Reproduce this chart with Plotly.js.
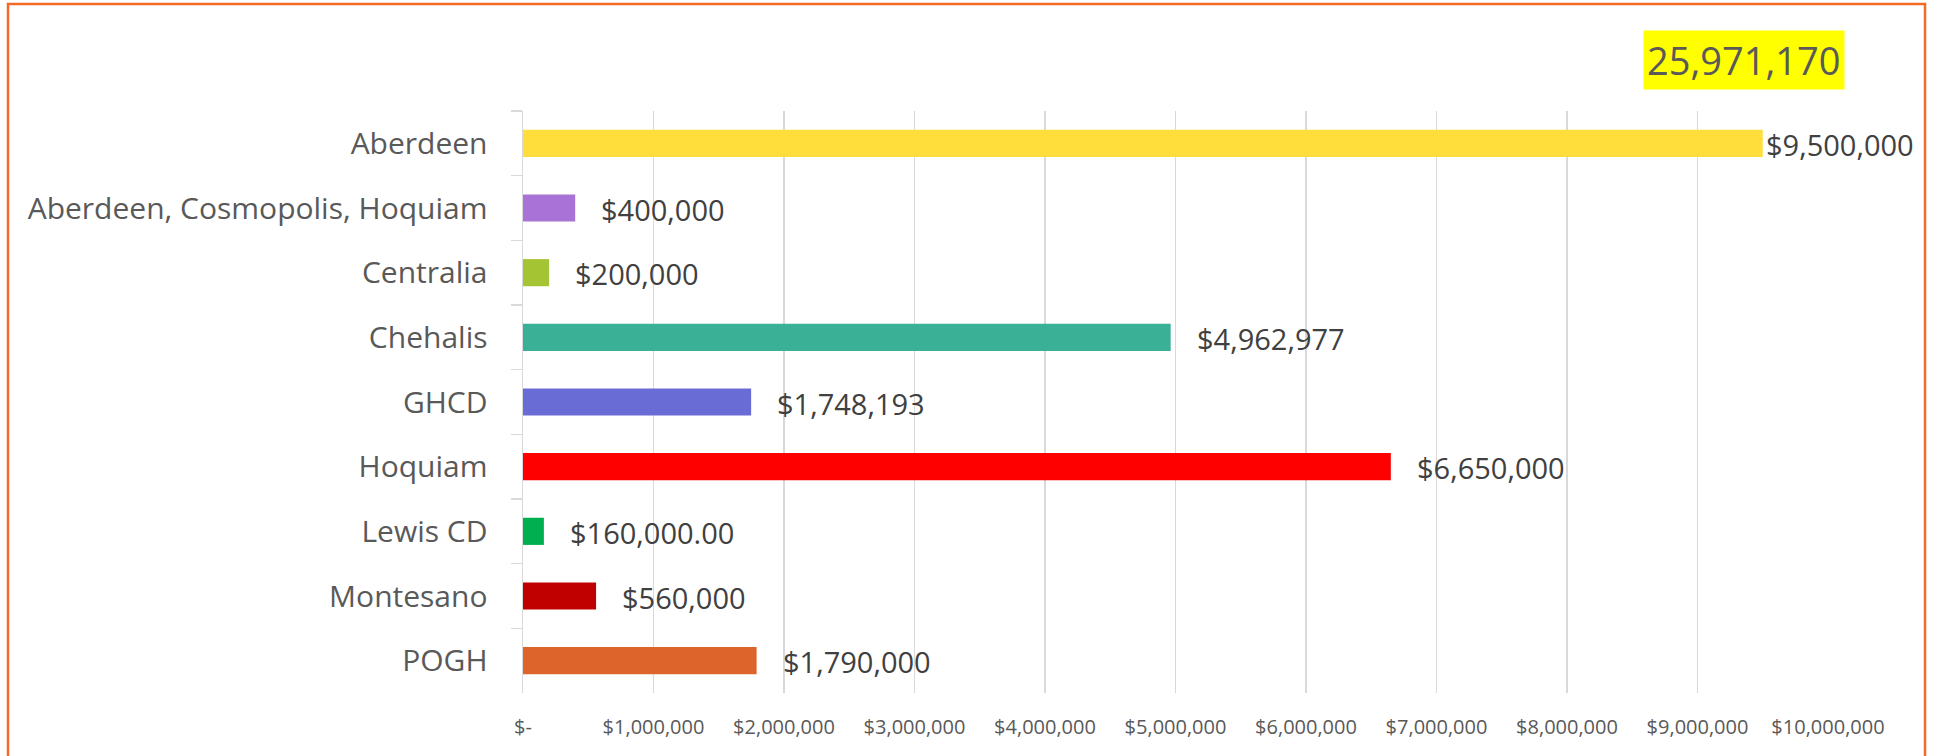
<!DOCTYPE html>
<html>
<head>
<meta charset="utf-8">
<script src="https://cdn.plot.ly/plotly-3.0.1.min.js"></script>
<style>
html,body{margin:0;padding:0;background:#fff;overflow:hidden;}
#chart{width:1939px;height:756px;}
</style>
</head>
<body>
<div id="chart"></div>
<script>
const categories = ["Aberdeen","Aberdeen, Cosmopolis, Hoquiam","Centralia","Chehalis","GHCD","Hoquiam","Lewis CD","Montesano","POGH"];
const values = [9500000,400000,200000,4962977,1748193,6650000,160000,560000,1790000];
const valueLabels = ["$9,500,000","$400,000","$200,000","$4,962,977","$1,748,193","$6,650,000","$160,000.00","$560,000","$1,790,000"];
const barColors = ["#FFDE3B","#A872D6","#A5C434","#3AB097","#6A6CD6","#FF0000","#00B050","#C00000","#DD642B"];
const tickValues = [0,1000000,2000000,3000000,4000000,5000000,6000000,7000000,8000000,9000000,10000000];
const tickLabels = ["$-","$1,000,000","$2,000,000","$3,000,000","$4,000,000","$5,000,000","$6,000,000","$7,000,000","$8,000,000","$9,000,000","$10,000,000"];

const total = values.reduce((a,b)=>a+b,0);
const totalText = total.toLocaleString('en-US');

const W = 1939, H = 756;
const M = {l:523, r:111, t:111, b:63};
const pw = W - M.l - M.r, ph = H - M.t - M.b;
const px = x => (x - M.l)/pw;
const py = y => (H - M.b - y)/ph;

const font = "'Open Sans', 'Noto Sans', sans-serif";
const gray = "#595959";

const trace = {
  type: 'bar',
  orientation: 'h',
  x: values,
  y: categories,
  marker: {color: barColors},
  width: 0.42,
  hoverinfo: 'none'
};

const maxX = tickValues[tickValues.length-1];
const annotations = values.map((v,i)=>({
  x: v, y: categories[i], xref:'x', yref:'y',
  text: valueLabels[i], showarrow:false,
  xanchor:'left', yanchor:'middle',
  xshift: v > 0.9*maxX ? 1 : 24,
  yshift: -1,
  font:{family:font, size:29, color:"#404040"}
}));
annotations.push({
  x: px(1744), y: py(60), xref:'paper', yref:'paper',
  text: totalText, showarrow:false,
  xanchor:'center', yanchor:'middle',
  bgcolor:'#FFFF00', borderpad:3,
  font:{family:font, size:38, color:gray}
});

const layout = {
  width: W, height: H,
  margin: M,
  paper_bgcolor:'#fff', plot_bgcolor:'#fff',
  showlegend:false,
  xaxis:{
    range:[0, maxX], fixedrange:true,
    tickvals: tickValues, ticktext: tickLabels,
    showgrid:true, gridcolor:'#D9D9D9', gridwidth:1.5,
    zeroline:false, showline:false, ticks:'',
    ticklabelstandoff: 20,
    tickfont:{family:font, size:20, color:gray}
  },
  yaxis:{
    type:'category', autorange:'reversed', fixedrange:true,
    showgrid:false, zeroline:false,
    showline:true, linecolor:'#D9D9D9', linewidth:1.5,
    ticks:'outside', tickson:'boundaries', ticklen:11, tickcolor:'#D9D9D9', tickwidth:1.5,
    ticklabelstandoff: 28,
    tickfont:{family:font, size:30, color:gray}
  },
  annotations: annotations,
  shapes:[{
    type:'rect', xref:'paper', yref:'paper',
    x0: px(8), x1: px(1925), y0: py(790), y1: py(4),
    line:{color:'#F26A25', width:2.5}, fillcolor:'rgba(0,0,0,0)', layer:'above'
  }]
};

Plotly.newPlot('chart', [trace], layout, {displayModeBar:false, staticPlot:true});
</script>
</body>
</html>
